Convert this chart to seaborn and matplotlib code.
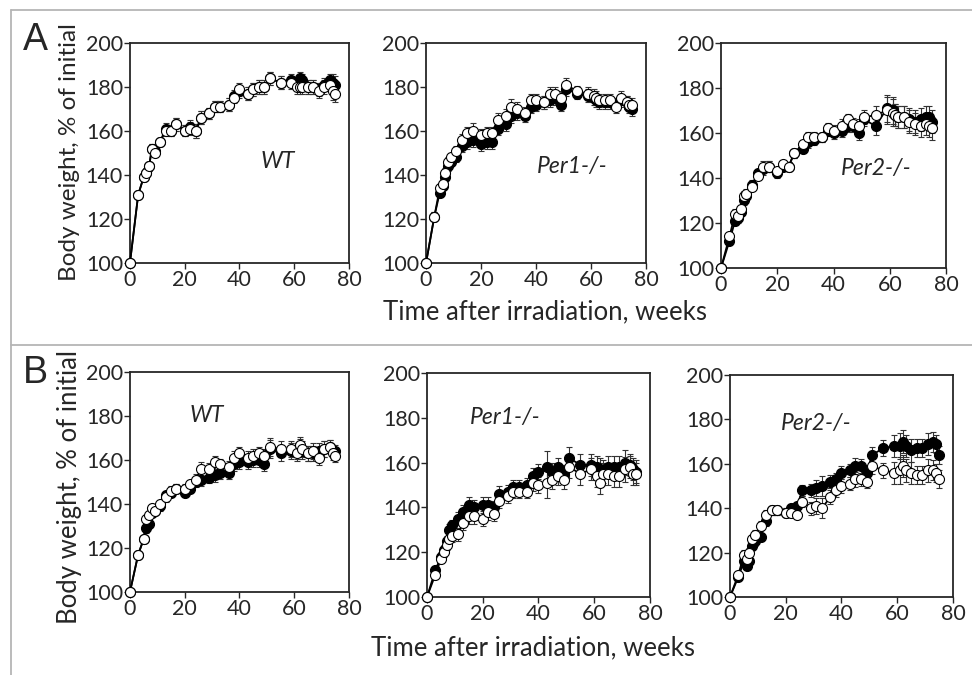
import numpy as np
import pandas as pd
import matplotlib
matplotlib.use("Agg")
import matplotlib.pyplot as plt
import seaborn as sns

# time points (weeks after irradiation)
weeks = [0, 3, 5, 6, 7, 8, 9, 11, 13, 15, 17, 20, 22, 24, 26, 29, 31, 33, 36, 38,
         40, 43, 45, 47, 49, 51, 55, 59, 61, 62, 63, 65, 67, 69, 71, 73, 74, 75]

# A - body weight, % of initial (filled = black circles, open = white circles)
a_wt_filled = [100, 131, 139, 141, 144, 152, 151, 155, 161, 160, 163, 160, 162, 160, 166, 168, 171, 171, 172, 176,
               178, 177, 179, 180, 180, 184, 182, 183, 181, 184, 183, 180, 180, 179, 181, 183, 182, 181]
a_wt_open = [100, 131, 139, 141, 144, 152, 150, 155, 160, 160, 163, 160, 161, 160, 166, 168, 171, 171, 172, 175,
             179, 177, 179, 180, 180, 184, 182, 182, 180, 180, 180, 180, 180, 178, 180, 181, 178, 177]
a_wt_err = [0, 1.5, 1.5, 2, 2, 2, 2, 2, 2.5, 2.5, 3, 2.5, 3, 3, 3, 2.5, 2.5, 2.5, 3, 2.5,
            3, 3, 3, 3, 3, 3, 3, 3, 3, 3, 3, 3, 3, 3, 3, 3, 4, 4]

a_per1_filled = [100, 121, 132, 135, 139, 144, 146, 148, 153, 155, 156, 154, 155, 155, 161, 163, 167, 168, 167, 171,
                 172, 173, 174, 175, 172, 179, 177, 176, 175, 174, 173, 173, 173, 172, 174, 173, 171, 170]
a_per1_open = [100, 121, 134, 136, 141, 146, 148, 151, 156, 159, 160, 158, 159, 159, 165, 167, 171, 170, 168, 174,
               174, 173, 177, 177, 175, 181, 178, 177, 176, 175, 174, 174, 174, 171, 175, 173, 172, 172]
a_per1_err = [0, 2, 2, 2, 2, 2, 2, 2, 2.5, 3, 3.5, 3, 3, 3, 3, 3, 3.5, 3, 3, 3,
              3, 3, 3, 3, 3, 3, 2.5, 3, 3, 3, 3, 3, 3, 3, 3, 3, 3, 3]

a_per2_filled = [100, 112, 121, 122, 125, 130, 132, 137, 142, 144, 145, 142, 145, 145, 151, 153, 156, 157, 158, 161,
                 160, 161, 163, 163, 160, 166, 163, 171, 170, 168, 167, 167, 166, 165, 166, 167, 167, 165]
a_per2_open = [100, 114, 124, 123, 126, 132, 133, 136, 141, 145, 145, 143, 146, 145, 151, 155, 158, 158, 158, 162,
               161, 163, 166, 164, 163, 167, 168, 170, 169, 168, 167, 167, 165, 164, 163, 164, 163, 162]
a_per2_err = [0, 2, 2, 2, 2, 2, 2, 2, 2, 2.5, 2.5, 2, 2, 2, 2, 2, 2.5, 2.5, 2, 2.5,
              2.5, 3, 2.5, 2.5, 3, 3, 4, 6, 6, 5, 5, 5, 5, 5, 5, 5, 5, 5]

# B - body weight, % of initial
b_wt_filled = [100, 117, 124, 129, 131, 136, 137, 139, 144, 145, 147, 145, 147, 150, 151, 152, 153, 154, 154, 158,
               159, 159, 160, 160, 158, 165, 163, 164, 164, 166, 164, 163, 163, 164, 165, 166, 164, 164]
b_wt_open = [100, 117, 124, 133, 135, 138, 137, 140, 143, 146, 147, 147, 149, 151, 156, 156, 159, 158, 157, 161,
             163, 161, 162, 163, 162, 166, 165, 165, 163, 167, 165, 163, 164, 161, 165, 166, 163, 162]
b_wt_err = [0, 1.5, 1.5, 2, 2, 2, 2, 2, 2, 2, 2, 2, 2, 2.5, 3, 2.5, 3, 2.5, 2.5, 3,
            3, 3, 3, 3, 3, 4, 3.5, 3.5, 3.5, 3.5, 3.5, 3.5, 3.5, 3.5, 3.5, 3, 3, 3]

b_per1_filled = [100, 112, 118, 121, 125, 130, 132, 135, 138, 141, 140, 141, 141, 140, 146, 147, 149, 149, 150, 154,
                 156, 158, 156, 158, 155, 162, 159, 159, 158, 157, 156, 158, 158, 158, 160, 159, 157, 156]
b_per1_open = [100, 110, 117, 120, 123, 126, 127, 128, 133, 136, 136, 135, 138, 137, 143, 145, 147, 147, 147, 151,
               150, 151, 152, 154, 152, 158, 155, 157, 154, 151, 155, 155, 154, 154, 157, 158, 155, 155]
b_per1_err = [0, 2, 2, 2, 2, 2.5, 2.5, 3, 3, 3.5, 3.5, 3.5, 3.5, 3, 3.5, 3, 3, 3, 3, 3.5,
              3.5, 7, 4, 4, 4, 5, 5, 5, 5, 5, 5, 5, 5, 5, 5.5, 5, 5, 5]

b_per2_filled = [100, 109, 116, 114, 116, 123, 125, 127, 134, 139, 139, 138, 140, 141, 148, 148, 149, 150, 152, 153,
                 156, 157, 159, 159, 156, 164, 167, 168, 168, 170, 168, 166, 167, 167, 169, 170, 169, 164]
b_per2_open = [100, 110, 119, 117, 120, 126, 128, 132, 137, 139, 139, 138, 138, 137, 143, 140, 141, 140, 145, 148,
               150, 151, 153, 153, 152, 159, 157, 156, 157, 159, 157, 156, 155, 155, 157, 157, 156, 153]
b_per2_err = [0, 1.5, 2, 2, 2, 2, 2, 2, 2, 2, 2, 2, 2, 2, 2.5, 3, 3.5, 4.5, 3, 3,
              3, 3, 3.5, 3, 3, 3.5, 3.5, 5, 6, 5, 5, 5, 4, 4, 5, 4.5, 4, 4]

genotypes = ["WT", "Per1-/-", "Per2-/-"]
tick_x = [0, 20, 40, 60, 80]
tick_y = [100, 120, 140, 160, 180, 200]

sns.set_style("ticks")
plt.rcParams['font.family'] = ['Lato', 'DejaVu Sans']

fig = plt.figure(figsize=(9.72, 6.75), dpi=100)

# layout: axes rectangles and genotype label positions
rects = [
    [0.1337, 0.6104, 0.2253, 0.3259],
    [0.4383, 0.6104, 0.2263, 0.3259],
    [0.7418, 0.6030, 0.2315, 0.3333],
    [0.1337, 0.1230, 0.2253, 0.3259],
    [0.4393, 0.1156, 0.2294, 0.3319],
    [0.7510, 0.1156, 0.2294, 0.3289],
]
label_pos = [(54, 146), (53, 144), (55, 144), (28, 180), (28, 180), (31, 178)]

series = [
    (a_wt_filled, a_wt_open, a_wt_err),
    (a_per1_filled, a_per1_open, a_per1_err),
    (a_per2_filled, a_per2_open, a_per2_err),
    (b_wt_filled, b_wt_open, b_wt_err),
    (b_per1_filled, b_per1_open, b_per1_err),
    (b_per2_filled, b_per2_open, b_per2_err),
]

for i, (filled, opened, err) in enumerate(series):
    ax = fig.add_axes(rects[i])
    df = pd.DataFrame({"week": weeks, "filled": filled, "open": opened, "err": err})
    # error bars
    ax.errorbar(df.week, df.filled, yerr=df.err, fmt="none", ecolor="#333333",
                elinewidth=0.8, capsize=2.5, capthick=0.8, zorder=2, clip_on=False)
    ax.errorbar(df.week, df.open, yerr=df.err, fmt="none", ecolor="#333333",
                elinewidth=0.8, capsize=2.5, capthick=0.8, zorder=3, clip_on=False)
    sns.lineplot(data=df, x="week", y="filled", ax=ax, color="black", lw=1.3,
                 marker="o", markersize=7.2, markerfacecolor="black",
                 markeredgecolor="black", markeredgewidth=0.8, zorder=4, clip_on=False)
    sns.lineplot(data=df, x="week", y="open", ax=ax, color="black", lw=1.3,
                 marker="o", markersize=7.2, markerfacecolor="white",
                 markeredgecolor="black", markeredgewidth=0.8, zorder=5, clip_on=False)
    ax.set_xlim(0, 80)
    ax.set_ylim(100, 200)
    ax.set_xticks(tick_x)
    ax.set_yticks(tick_y)
    ax.tick_params(labelsize=15.5, length=4, width=1, direction="out", pad=1)
    for s in ax.spines.values():
        s.set_linewidth(1.3)
        s.set_visible(True)
    ax.set_xlabel("")
    ax.set_ylabel("")
    ax.text(label_pos[i][0], label_pos[i][1], genotypes[i % 3], ha="center", va="center",
            fontsize=16.5, style="italic")

# axis titles
fig.text(0.561, 0.538, "Time after irradiation, weeks", ha="center", va="center", fontsize=18.5)
fig.text(0.548, 0.040, "Time after irradiation, weeks", ha="center", va="center", fontsize=18.5)
fig.text(0.072, 0.775, "Body weight, % of initial", ha="center", va="center", rotation=90, fontsize=17.5)
fig.text(0.072, 0.278, "Body weight, % of initial", ha="center", va="center", rotation=90, fontsize=18.5)

# panel letters
fig.text(0.024, 0.940, "A", ha="left", va="center", fontsize=27, family="Liberation Sans")
fig.text(0.024, 0.448, "B", ha="left", va="center", fontsize=27, family="Liberation Sans")

# frame lines
frame = dict(color="#b5b5b5", lw=1.3, transform=fig.transFigure)
fig.add_artist(plt.Line2D([0.0113, 1.0], [0.985, 0.985], **frame))
fig.add_artist(plt.Line2D([0.0113, 0.0113], [0.0, 0.985], **frame))
fig.add_artist(plt.Line2D([0.0113, 1.0], [0.489, 0.489], **frame))

fig.savefig("out.png", dpi=100)
